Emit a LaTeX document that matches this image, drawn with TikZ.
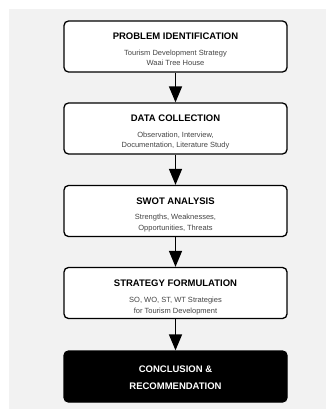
\documentclass[tikz,border=0pt]{standalone}
\usepackage{fontspec}
\setmainfont{Liberation Sans}
\usetikzlibrary{arrows.meta}
\definecolor{bggrey}{HTML}{F2F2F2}
\definecolor{subgrey}{HTML}{444444}
\tikzset{
  stagebox/.style={draw=black, line width=1.3pt, rounded corners=4.5pt, fill=white,
    minimum width=223pt, minimum height=51pt, inner sep=0pt},
  finalbox/.style={stagebox, fill=black},
  titletext/.style={font=\bfseries\fontsize{9.5}{11}\selectfont, inner sep=0pt},
  subtext/.style={font=\fontsize{7.5}{10.5}\selectfont, text=subgrey, align=center, inner sep=0pt},
  finaltext/.style={font=\bfseries\fontsize{9.5}{17}\selectfont, text=white, align=center, inner sep=0pt},
  flowarrow/.style={line width=1.5pt, -{Triangle[width=13pt,length=16pt]}}
}
\begin{document}
\begin{tikzpicture}[x=1pt,y=-1pt]
\useasboundingbox (0,0) rectangle (326,409);
\fill[bggrey] (9,9) rectangle (326,409);

\node[stagebox] (b1) at (175.5,46.5) {};
\node[stagebox] (b2) at (175.5,128.5) {};
\node[stagebox] (b3) at (175.5,211) {};
\node[stagebox] (b4) at (175.5,293) {};
\node[finalbox] (b5) at (175.5,376.5) {};

\node[titletext] (t1) at ([yshift=-15.5pt]b1.north) {PROBLEM IDENTIFICATION};
\node[subtext] (s1) at ([yshift=-37.5pt]b1.north) {Tourism Development Strategy\\Waai Tree House};

\node[titletext] (t2) at ([yshift=-16pt]b2.north) {DATA COLLECTION};
\node[subtext] (s2) at ([yshift=-38pt]b2.north) {Observation, Interview,\\Documentation, Literature Study};

\node[titletext] (t3) at ([yshift=-16pt]b3.north) {SWOT ANALYSIS};
\node[subtext] (s3) at ([yshift=-38pt]b3.north) {Strengths, Weaknesses,\\Opportunities, Threats};

\node[titletext] (t4) at ([yshift=-16.5pt]b4.north) {STRATEGY FORMULATION};
\node[subtext] (s4) at ([yshift=-39pt]b4.north) {SO, WO, ST, WT Strategies\\for Tourism Development};

\node[finaltext] (t5) at ([yshift=-27.5pt]b5.north) {CONCLUSION \&\\RECOMMENDATION};

\draw[flowarrow] (b1.south) -- (b2.north);
\draw[flowarrow] (b2.south) -- (b3.north);
\draw[flowarrow] (b3.south) -- (b4.north);
\draw[flowarrow] (b4.south) -- (b5.north);
\end{tikzpicture}
\end{document}
